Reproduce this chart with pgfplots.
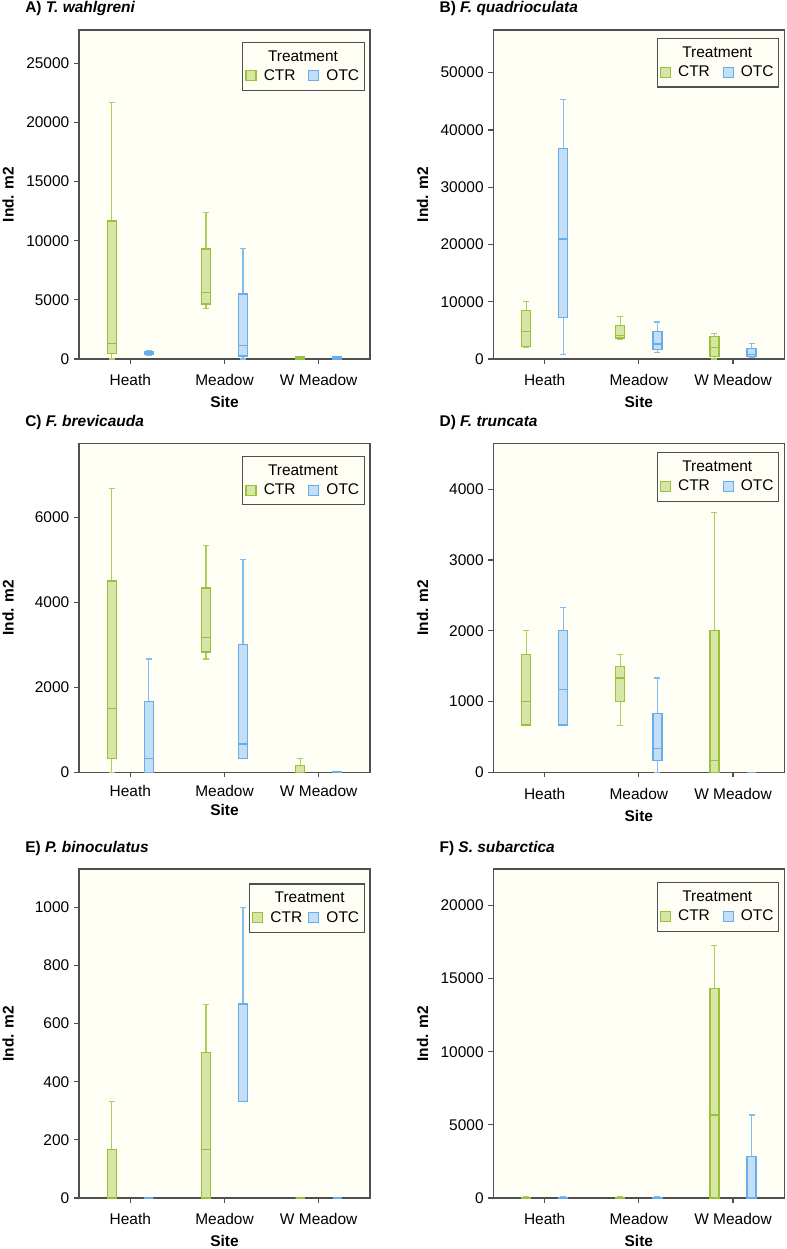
\documentclass[border=0pt]{standalone}
\usepackage{fontspec}
\setmainfont{Liberation Sans}
\usepackage{pgfplots}
\pgfplotsset{compat=1.18}
\definecolor{bgc}{HTML}{FFFEF4}
\definecolor{axc}{HTML}{505050}
\definecolor{ctrE}{HTML}{99C23A}
\definecolor{ctrW}{HTML}{AACF5E}
\definecolor{ctrF}{HTML}{D7E6A6}
\definecolor{otcE}{HTML}{66AEEB}
\definecolor{otcW}{HTML}{82BDEF}
\definecolor{otcF}{HTML}{C3DEF6}
\newcommand\fsz{\fontsize{11.6}{13.9}\selectfont}
\pgfplotsset{
  panel/.style={
    scale only axis, width=218.25pt, height=246.75pt,
    anchor=north west, clip=false,
    xmin=0.455, xmax=3.545, ymin=0,
    xtick={1,2,3}, xticklabels={Heath,Meadow,W Meadow},
    tick pos=left, tick align=outside, major tick length=3.75pt,
    minor tick num=0,
    tick style={draw=axc, line width=0.9pt},
    axis line style={draw=axc, line width=0.9pt},
    axis background/.style={fill=bgc},
    scaled y ticks=false,
    /pgf/number format/1000 sep={},
    /pgf/number format/assume math mode=true,
    tick label style={font=\fsz, text=black},
    xticklabel style={yshift=-4.5pt},
    xlabel={\bfseries Site}, ylabel={\bfseries Ind. m2},
    every axis y label/.style={at={(axis description cs:-0.2433,0.5)}, rotate=90, anchor=center, font=\fsz},
    every axis x label/.style={at={(axis description cs:0.5,-0.148)}, anchor=base, font=\fsz},
    every axis title shift=0pt,
    title style={at={(axis description cs:-0.1856,1.0517)}, anchor=base west, inner sep=0pt, font=\fsz\bfseries},
    legend columns=2,
    legend cell align=left,
    legend style={draw=axc, line width=0.9pt, fill=bgc, font=\fsz,
      at={(axis description cs:0.983,0.965)}, anchor=north east,
      inner xsep=2pt, inner ysep=4.25pt, row sep=0.75pt,
      /tikz/every odd column/.append style={column sep=3.3pt}},
  },
  wideleg/.style={legend style={/tikz/every even column/.append style={column sep=7.5pt}}},
  narrowleg/.style={legend style={/tikz/every even column/.append style={column sep=2.5pt}}},
  ctrwhisk/.style={forget plot, draw=ctrW, line width=0.9pt},
  ctrbox/.style={forget plot, draw=ctrE, fill=ctrF, line width=1pt},
  ctrmed/.style={forget plot, draw=ctrE, line width=0.9pt},
  otcwhisk/.style={forget plot, draw=otcW, line width=0.9pt},
  otcbox/.style={forget plot, draw=otcE, fill=otcF, line width=1pt},
  otcmed/.style={forget plot, draw=otcE, line width=0.9pt},
  ctrleg/.style={legend image code/.code={\draw[draw=ctrE,fill=ctrF,line width=0.9pt] (0pt,-3.75pt) rectangle (7.5pt,3.75pt);}},
  otcleg/.style={legend image code/.code={\draw[draw=otcE,fill=otcF,line width=0.9pt] (0pt,-3.75pt) rectangle (7.5pt,3.75pt);}},
}
\newcommand\treatlegend{%
  \addlegendimage{empty legend}\addlegendentry{\makebox[0pt][l]{\hspace{3.2pt}Treatment}}
  \addlegendimage{empty legend}\addlegendentry{}
  \addlegendimage{ctrleg}\addlegendentry{CTR}
  \addlegendimage{otcleg}\addlegendentry{OTC}
}
% box: style, draw position, lower whisker, lower quartile, median, upper quartile, upper whisker
\newcommand\bx[7]{%
  \pgfmathsetmacro\bxl{#2-0.0475}\pgfmathsetmacro\bxr{#2+0.0475}%
  \pgfmathsetmacro\cxl{#2-0.032}\pgfmathsetmacro\cxr{#2+0.032}%
  \edef\bxcmd{%
    \noexpand\addplot[#1whisk] coordinates {(#2,#3) (#2,#4)};
    \noexpand\addplot[#1whisk] coordinates {(#2,#6) (#2,#7)};
    \noexpand\addplot[#1whisk] coordinates {(\cxl,#3) (\cxr,#3)};
    \noexpand\addplot[#1whisk] coordinates {(\cxl,#7) (\cxr,#7)};
    \noexpand\addplot[#1box] coordinates {(\bxl,#4) (\bxr,#4) (\bxr,#6) (\bxl,#6)} --cycle;
    \noexpand\addplot[#1med] coordinates {(\bxl,#5) (\bxr,#5)};
  }\bxcmd}
\begin{document}
\begin{tikzpicture}
\useasboundingbox (0pt,0pt) rectangle (590.25pt,-936.75pt);
% A
\begin{axis}[panel, wideleg, at={(59.25pt,-22.5pt)}, ymax=27815, ytick={0,5000,10000,15000,20000,25000},
  title={A) \textit{T. wahlgreni}}]
\bx{ctr}{0.803}{0}{480}{1325}{11670}{21670}
\bx{otc}{1.197}{330}{370}{500}{630}{670}
\bx{ctr}{1.803}{4285}{4651}{5638}{9303}{12375}
\bx{otc}{2.197}{0}{254}{1128}{5497}{9359}
\bx{ctr}{2.803}{0}{0}{70}{160}{200}
\bx{otc}{3.197}{0}{0}{70}{160}{200}
\treatlegend
\end{axis}
% B
\begin{axis}[panel, wideleg, at={(370pt,-22.5pt)}, ymax=57450, ytick={0,10000,20000,30000,40000,50000},
  title={B) \textit{F. quadrioculata}}, legend style={at={(axis description cs:0.983,0.976)}}]
\bx{ctr}{0.803}{2037}{2154}{4773}{8441}{10012}
\bx{otc}{1.197}{757}{7276}{20955}{36730}{45345}
\bx{ctr}{1.803}{3434}{3667}{4133}{5821}{7393}
\bx{otc}{2.197}{1164}{1630}{2619}{4773}{6461}
\bx{ctr}{2.803}{0}{407}{1979}{3900}{4482}
\bx{otc}{3.197}{233}{466}{815}{1863}{2736}
\treatlegend
\end{axis}
% C
\begin{axis}[panel, wideleg, at={(59.25pt,-332.5pt)}, ymax=7738, ytick={0,2000,4000,6000},
  xticklabel style={yshift=2.25pt},
  every axis x label/.style={at={(axis description cs:0.5,-0.1297)}, anchor=base, font=\fsz},
  title={C) \textit{F. brevicauda}}, legend style={at={(axis description cs:0.983,0.962)}}]
\bx{ctr}{0.803}{0}{333}{1500}{4500}{6667}
\bx{otc}{1.197}{0}{0}{333}{1667}{2667}
\bx{ctr}{1.803}{2667}{2833}{3167}{4333}{5333}
\bx{otc}{2.197}{333}{333}{667}{3000}{5000}
\bx{ctr}{2.803}{0}{0}{0}{167}{333}
\bx{otc}{3.197}{0}{0}{0}{20}{20}
\treatlegend
\end{axis}
% D
\begin{axis}[panel, wideleg, at={(370pt,-332.5pt)}, ymax=4649, ytick={0,1000,2000,3000,4000},
  title={D) \textit{F. truncata}}, legend style={at={(axis description cs:0.983,0.973)}}]
\bx{ctr}{0.803}{667}{667}{1000}{1667}{2000}
\bx{otc}{1.197}{667}{667}{1167}{2000}{2333}
\bx{ctr}{1.803}{667}{1000}{1333}{1500}{1667}
\bx{otc}{2.197}{0}{167}{333}{833}{1333}
\bx{ctr}{2.803}{0}{0}{167}{2000}{3667}
\bx{otc}{3.197}{0}{0}{0}{0}{0}
\treatlegend
\end{axis}
% E
\begin{axis}[panel, narrowleg, at={(59.25pt,-651.75pt)}, ymax=1132, ytick={0,200,400,600,800,1000},
  title={E) \textit{P. binoculatus}}, legend style={at={(axis description cs:0.983,0.9565)}}]
\bx{ctr}{0.803}{0}{0}{0}{167}{333}
\bx{otc}{1.197}{0}{0}{0}{0}{0}
\bx{ctr}{1.803}{0}{0}{167}{500}{667}
\bx{otc}{2.197}{333}{333}{333}{667}{1000}
\bx{ctr}{2.803}{0}{0}{0}{0}{0}
\bx{otc}{3.197}{0}{0}{0}{0}{0}
\treatlegend
\end{axis}
% F
\begin{axis}[panel, wideleg, at={(370pt,-651.75pt)}, ymax=22490, ytick={0,5000,10000,15000,20000},
  title={F) \textit{S. subarctica}}, legend style={at={(axis description cs:0.983,0.96)}}]
\bx{ctr}{0.803}{0}{0}{0}{50}{100}
\bx{otc}{1.197}{0}{0}{0}{50}{100}
\bx{ctr}{1.803}{0}{0}{0}{50}{100}
\bx{otc}{2.197}{0}{0}{0}{50}{100}
\bx{ctr}{2.803}{0}{0}{5680}{14300}{17267}
\bx{otc}{3.197}{0}{0}{0}{2850}{5680}
\treatlegend
\end{axis}
\end{tikzpicture}
\end{document}
